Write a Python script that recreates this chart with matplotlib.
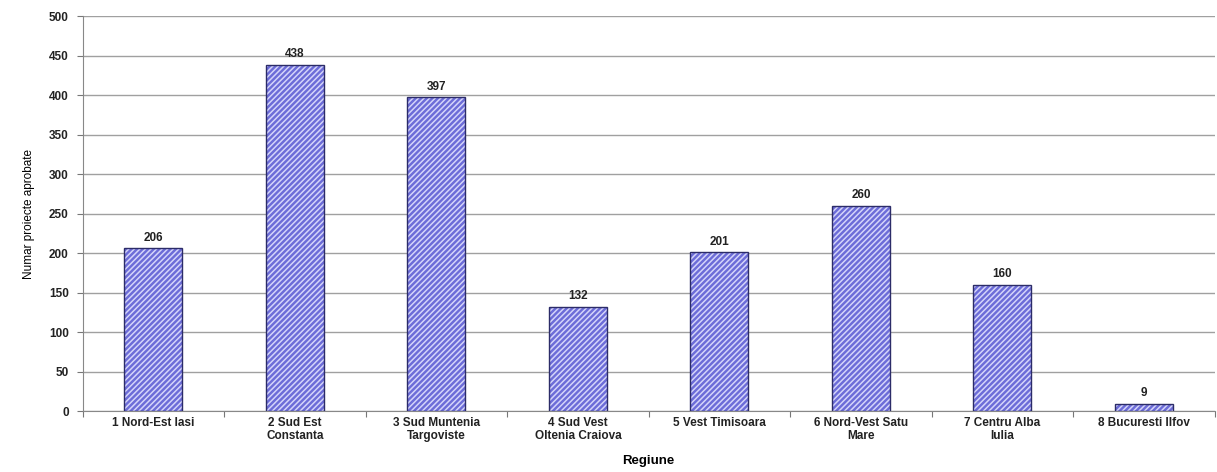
import numpy as np
import matplotlib
matplotlib.use("Agg")
import matplotlib.pyplot as plt

regiuni = ["1 Nord-Est Iasi", "2 Sud Est\nConstanta", "3 Sud Muntenia\nTargoviste",
           "4 Sud Vest\nOltenia Craiova", "5 Vest Timisoara", "6 Nord-Vest Satu\nMare",
           "7 Centru Alba\nIulia", "8 Bucuresti Ilfov"]
proiecte = [206, 438, 397, 132, 201, 260, 160, 9]
yticks = np.arange(0, 501, 50)

plt.rcParams['font.family'] = ['Liberation Sans', 'DejaVu Sans']
plt.rcParams['hatch.linewidth'] = 1.1

fig = plt.figure(figsize=(12.17, 4.72), dpi=100)
ax = fig.add_axes([0.068, 0.129, 0.930, 0.837])

x = np.arange(len(regiuni))
# umplere hasurata + contur separat
ax.bar(x, proiecte, width=0.41, color='#6c6cd8', edgecolor='#d4d4fa',
       hatch='//////', linewidth=0, zorder=3)
ax.bar(x, proiecte, width=0.41, fill=False, edgecolor='#2c2c68',
       linewidth=1.0, zorder=4)

for xi, v in zip(x, proiecte):
    ax.text(xi, v + 6, str(v), ha='center', va='bottom', fontsize=8.5,
            fontweight='bold', color='#222222')

ax.set_xlim(-0.5, len(regiuni) - 0.5)
ax.set_ylim(0, 500)
ax.set_yticks(yticks)
ax.set_yticklabels([str(t) for t in yticks], fontsize=8.5, fontweight='bold',
                   color='#222222')
ax.set_xticks(np.arange(len(regiuni) + 1) - 0.5, minor=False)
ax.set_xticklabels([])
ax.set_xticks(x, minor=True)
ax.set_xticklabels(regiuni, minor=True, fontsize=8.5, fontweight='bold',
                   color='#222222', linespacing=1.1)
ax.tick_params(axis='x', which='minor', length=0, pad=4)
ax.tick_params(axis='x', which='major', length=4, color='#777777')
ax.tick_params(axis='y', length=4, color='#777777', pad=6)

ax.yaxis.grid(True, color='#a0a0a0', linewidth=1.0, zorder=0)
ax.set_axisbelow(True)
for s in ['top', 'right']:
    ax.spines[s].set_visible(False)
ax.spines['left'].set_color('#888888')
ax.spines['bottom'].set_color('#888888')

ax.set_ylabel('Numar proiecte aprobate', fontsize=8.5, labelpad=10)
ax.set_xlabel('Regiune', fontsize=9.5, fontweight='bold', labelpad=10)

fig.savefig('out.png', dpi=100)
